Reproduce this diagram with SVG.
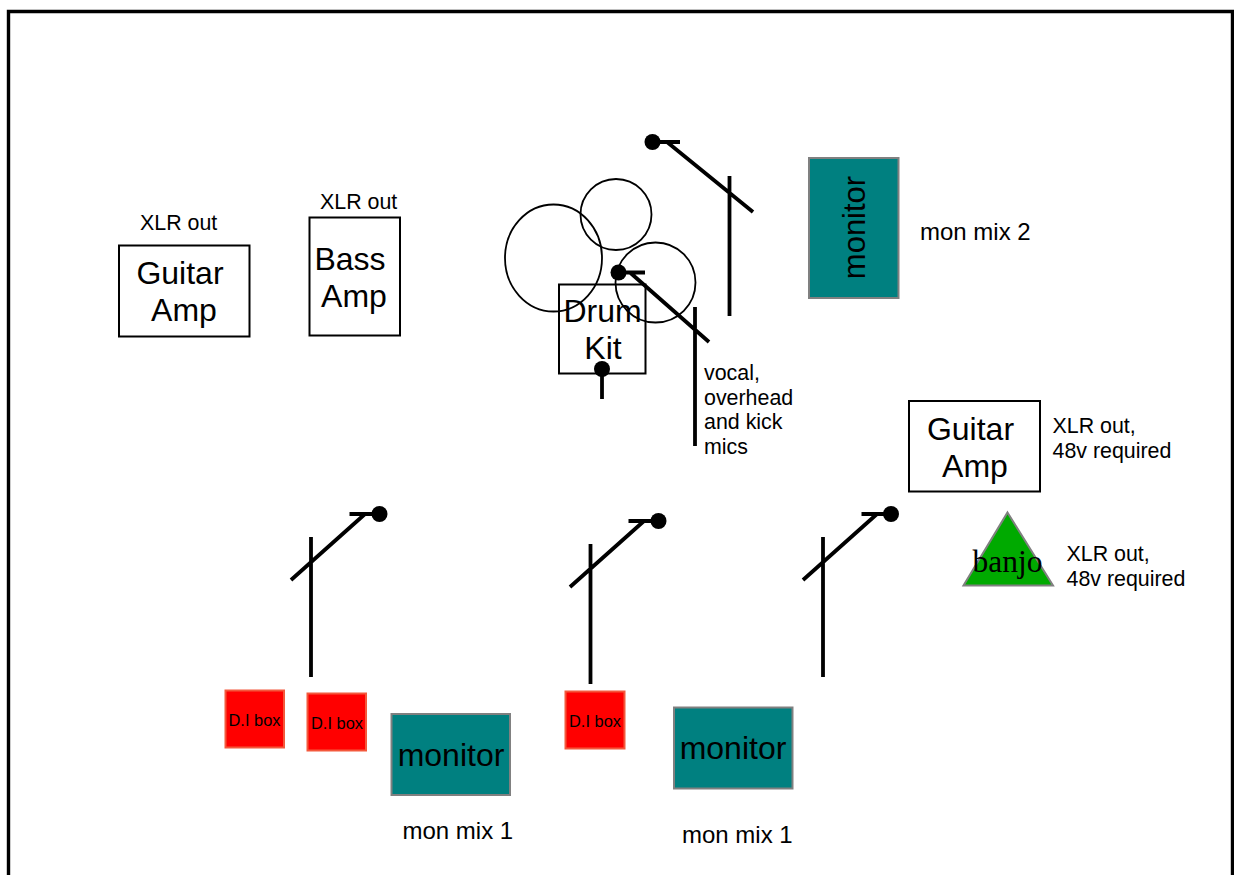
<svg xmlns="http://www.w3.org/2000/svg" width="1234" height="875" viewBox="0 0 1234 875">
<style>
text{font-family:"Liberation Sans",Arial,sans-serif;fill:#000}
.box{fill:#fff;stroke:#000;stroke-width:2}
.mon{fill:#008080;stroke:#808080;stroke-width:2}
.di{fill:#f00;stroke:#f4583c;stroke-width:2}
.ring{fill:none;stroke:#000;stroke-width:1.8}
.st{fill:none;stroke:#000;stroke-width:3.8}
.big{font-size:32px;text-anchor:middle}
.mid{font-size:32px;text-anchor:middle}
.lab{font-size:21.400px}
.mix{font-size:24px}
.dit{font-size:16.400px;text-anchor:middle}
</style>
<rect width="1234" height="875" fill="#fff"/>
<path d="M8.500 875V11.500H1232.500V875" fill="none" stroke="#000" stroke-width="3.400"/>
<g id="guitar-amp-1"><rect class="box" x="119" y="245.500" width="130.500" height="91"/><text class="big" x="180" y="284">Guitar</text><text class="big" x="184" y="321">Amp</text></g>
<g id="bass-amp"><rect class="box" x="309.500" y="217.500" width="90.500" height="118"/><text class="big" x="350" y="270">Bass</text><text class="big" x="354" y="307">Amp</text></g>
<g id="label-xlr-1"><text class="lab" x="140" y="230">XLR out</text></g>
<g id="label-xlr-2"><text class="lab" x="320" y="209">XLR out</text></g>
<g id="drum-kit">
<ellipse class="ring" cx="553.500" cy="258" rx="48.500" ry="53.500"/>
<circle class="ring" cx="616" cy="214.500" r="35.500"/>
<circle class="ring" cx="655.500" cy="282.500" r="40"/>
<rect x="559" y="284.500" width="86.500" height="89" fill="none" stroke="#000" stroke-width="2"/>
<text class="big" x="602.500" y="322">Drum</text><text class="big" x="603" y="359">Kit</text>
</g>
<g id="monitor-top"><rect class="mon" x="809" y="158" width="89.500" height="140"/><text class="mid" style="font-size:31px" transform="translate(865 227.500) rotate(-90)" x="0" y="0">monitor</text></g>
<g id="label-mon2"><text class="mix" x="920" y="240">mon mix 2</text></g>
<g id="label-mics"><text class="lab" x="704" y="380">vocal,</text><text class="lab" x="704" y="405">overhead</text><text class="lab" x="704" y="429">and kick</text><text class="lab" x="704" y="454">mics</text></g>
<g id="guitar-amp-2"><rect class="box" x="909" y="401" width="131" height="90.500"/><text class="big" x="970.500" y="440">Guitar</text><text class="big" x="975" y="477">Amp</text></g>
<g id="label-xlr-3"><text class="lab" x="1052.500" y="433">XLR out,</text><text class="lab" x="1052.500" y="458">48v required</text></g>
<g id="banjo"><path d="M1007.500 512.500L1053 585.500H963.500Z" fill="#00aa00" stroke="#808080" stroke-width="2"/><text x="1007.500" y="572" font-size="31.500" text-anchor="middle" style="font-family:'Liberation Serif',serif">banjo</text></g>
<g id="label-xlr-4"><text class="lab" x="1066.500" y="561">XLR out,</text><text class="lab" x="1066.500" y="586">48v required</text></g>
<g id="di-1"><rect class="di" x="225.500" y="690.500" width="58.500" height="57"/><text class="dit" x="254.500" y="726">D.I box</text></g>
<g id="di-2"><rect class="di" x="307.500" y="693.500" width="58.500" height="57"/><text class="dit" x="337" y="729">D.I box</text></g>
<g id="di-3"><rect class="di" x="565.500" y="691.500" width="59" height="57"/><text class="dit" x="595" y="727">D.I box</text></g>
<g id="monitor-1"><rect class="mon" x="391.500" y="714" width="118.500" height="81"/><text class="mid" x="451" y="766">monitor</text></g>
<g id="monitor-2"><rect class="mon" x="674" y="707.500" width="118.500" height="81"/><text class="mid" x="733" y="759">monitor</text></g>
<g id="label-mon-1"><text class="mix" x="402.500" y="839">mon mix 1</text></g>
<g id="label-mon-2"><text class="mix" x="682" y="843">mon mix 1</text></g>
<g id="connectors">
<g id="stand-top"><path class="st" d="M729.500 176V316M753 212L667 142M660 142H680"/><circle cx="652.500" cy="142" r="8"/></g>
<g id="stand-drum"><path class="st" d="M695 307V446M709 342L630 272.500M620 272.500H645"/><circle cx="618.500" cy="272.500" r="8"/></g>
<g id="stand-kick"><path class="st" d="M602 369V399"/><circle cx="602" cy="369" r="8"/></g>
<g id="stand-1"><path class="st" d="M311 537V677M291 580L365 514M349.500 514H375"/><circle cx="379.500" cy="514" r="8"/></g>
<g id="stand-2"><path class="st" d="M590.500 544V684M570 587L644 521M628.500 521H654"/><circle cx="658.500" cy="521" r="8"/></g>
<g id="stand-3"><path class="st" d="M823 537V677M803 580L877 514M861.500 514H887"/><circle cx="891" cy="514" r="8"/></g>
</g>
</svg>
